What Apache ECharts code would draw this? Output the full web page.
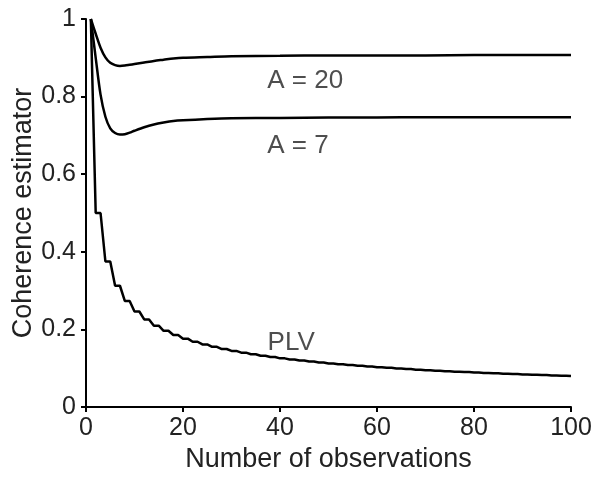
<!DOCTYPE html>
<html>
<head>
<meta charset="utf-8">
<script src="https://cdn.jsdelivr.net/npm/echarts@6/dist/echarts.min.js"></script>
<style>html,body{margin:0;padding:0;background:#fff;}#c{width:598px;height:480px;}</style>
</head>
<body>
<div id="c"></div>
<script>
var aN = [1, 2, 3, 4, 5, 6, 7, 8, 9, 10, 12, 14, 16, 18, 20, 25, 30, 40, 50, 60, 70, 80, 90, 100];
var a20 = [1.0, 0.962, 0.926, 0.901, 0.887, 0.881, 0.879, 0.880, 0.882, 0.884, 0.888, 0.892, 0.895, 0.898, 0.900, 0.902, 0.904, 0.905, 0.906, 0.906, 0.906, 0.907, 0.907, 0.907];
var a7 = [1.0, 0.900, 0.805, 0.748, 0.718, 0.706, 0.702, 0.703, 0.707, 0.712, 0.721, 0.728, 0.733, 0.737, 0.739, 0.742, 0.744, 0.745, 0.746, 0.746, 0.747, 0.747, 0.747, 0.747];
// PLV for N = 1..100
var plv = [1,
 0.5, 0.5, 0.375, 0.375, 0.3125, 0.3125, 0.2734, 0.2734, 0.2461, 0.2461,
 0.2256, 0.2256, 0.2095, 0.2095, 0.1964, 0.1964, 0.1855, 0.1855, 0.1762, 0.1762,
 0.1682, 0.1682, 0.1612, 0.1612, 0.1550, 0.1550, 0.1494, 0.1494, 0.1445, 0.1445,
 0.1400, 0.1400, 0.1359, 0.1359, 0.1321, 0.1321, 0.1287, 0.1287, 0.1254, 0.1254,
 0.1225, 0.1225, 0.1197, 0.1197, 0.1171, 0.1171, 0.1147, 0.1147, 0.1123, 0.1123,
 0.1102, 0.1102, 0.1081, 0.1081, 0.1062, 0.1062, 0.1043, 0.1043, 0.1026, 0.1026,
 0.1009, 0.1009, 0.0993, 0.0993, 0.0978, 0.0978, 0.0963, 0.0963, 0.0950, 0.0950,
 0.0936, 0.0936, 0.0924, 0.0924, 0.0911, 0.0911, 0.0900, 0.0900, 0.0889, 0.0889,
 0.0878, 0.0878, 0.0868, 0.0868, 0.0858, 0.0858, 0.0848, 0.0848, 0.0839, 0.0839,
 0.0830, 0.0830, 0.0822, 0.0822, 0.0813, 0.0813, 0.0805, 0.0805, 0.0797];
var labels = [
  {text: 'A = 20', x: 45.2, y: 0.840},
  {text: 'A = 7', x: 43.7, y: 0.672},
  {text: 'PLV', x: 42.3, y: 0.165}
];

var FONT = '"Liberation Sans", Arial, Helvetica, sans-serif';
var chart = echarts.init(document.getElementById('c'), null, {renderer: 'canvas'});

function pairs(xs, ys) { return ys.map(function (v, i) { return [xs[i], v]; }); }

var lineStyle = {color: '#000', width: 2.5};
var option = {
  animation: false,
  backgroundColor: '#fff',
  grid: {left: 86, right: 27, top: 19, bottom: 73, containLabel: false, outerBoundsMode: 'none'},
  xAxis: {
    type: 'value', min: 0, max: 100, interval: 20,
    name: 'Number of observations', nameLocation: 'middle', nameGap: 39, nameMoveOverlap: false,
    nameTextStyle: {fontFamily: FONT, fontSize: 27, color: '#222'},
    axisLine: {show: true, lineStyle: {color: '#000', width: 2}},
    axisTick: {show: true, length: 5, lineStyle: {color: '#000', width: 2}},
    axisLabel: {fontFamily: FONT, fontSize: 25, color: '#222', margin: 9},
    splitLine: {show: false}
  },
  yAxis: {
    type: 'value', min: 0, max: 1, interval: 0.2,
    name: 'Coherence estimator', nameLocation: 'middle', nameGap: 49, nameMoveOverlap: false,
    nameTextStyle: {fontFamily: FONT, fontSize: 27, color: '#222'},
    axisLine: {show: true, lineStyle: {color: '#000', width: 2}},
    axisTick: {show: true, length: 5, lineStyle: {color: '#000', width: 2}},
    axisLabel: {fontFamily: FONT, fontSize: 25, color: '#222', margin: 10},
    splitLine: {show: false}
  },
  series: [
    {type: 'line', data: pairs(aN, a20), smooth: 0.3, symbol: 'none', lineStyle: lineStyle},
    {type: 'line', data: pairs(aN, a7), smooth: 0.3, symbol: 'none', lineStyle: lineStyle},
    {type: 'line', data: plv.map(function (v, i) { return [i + 1, v]; }), symbol: 'none', lineStyle: lineStyle},
    {type: 'scatter', symbolSize: 0, silent: true,
      data: labels.map(function (l) { return {value: [l.x, l.y], name: l.text}; }),
      label: {show: true, position: 'inside', formatter: '{b}', fontFamily: FONT, fontSize: 26, color: '#222'}}
  ]
};
chart.setOption(option);
</script>
</body>
</html>
